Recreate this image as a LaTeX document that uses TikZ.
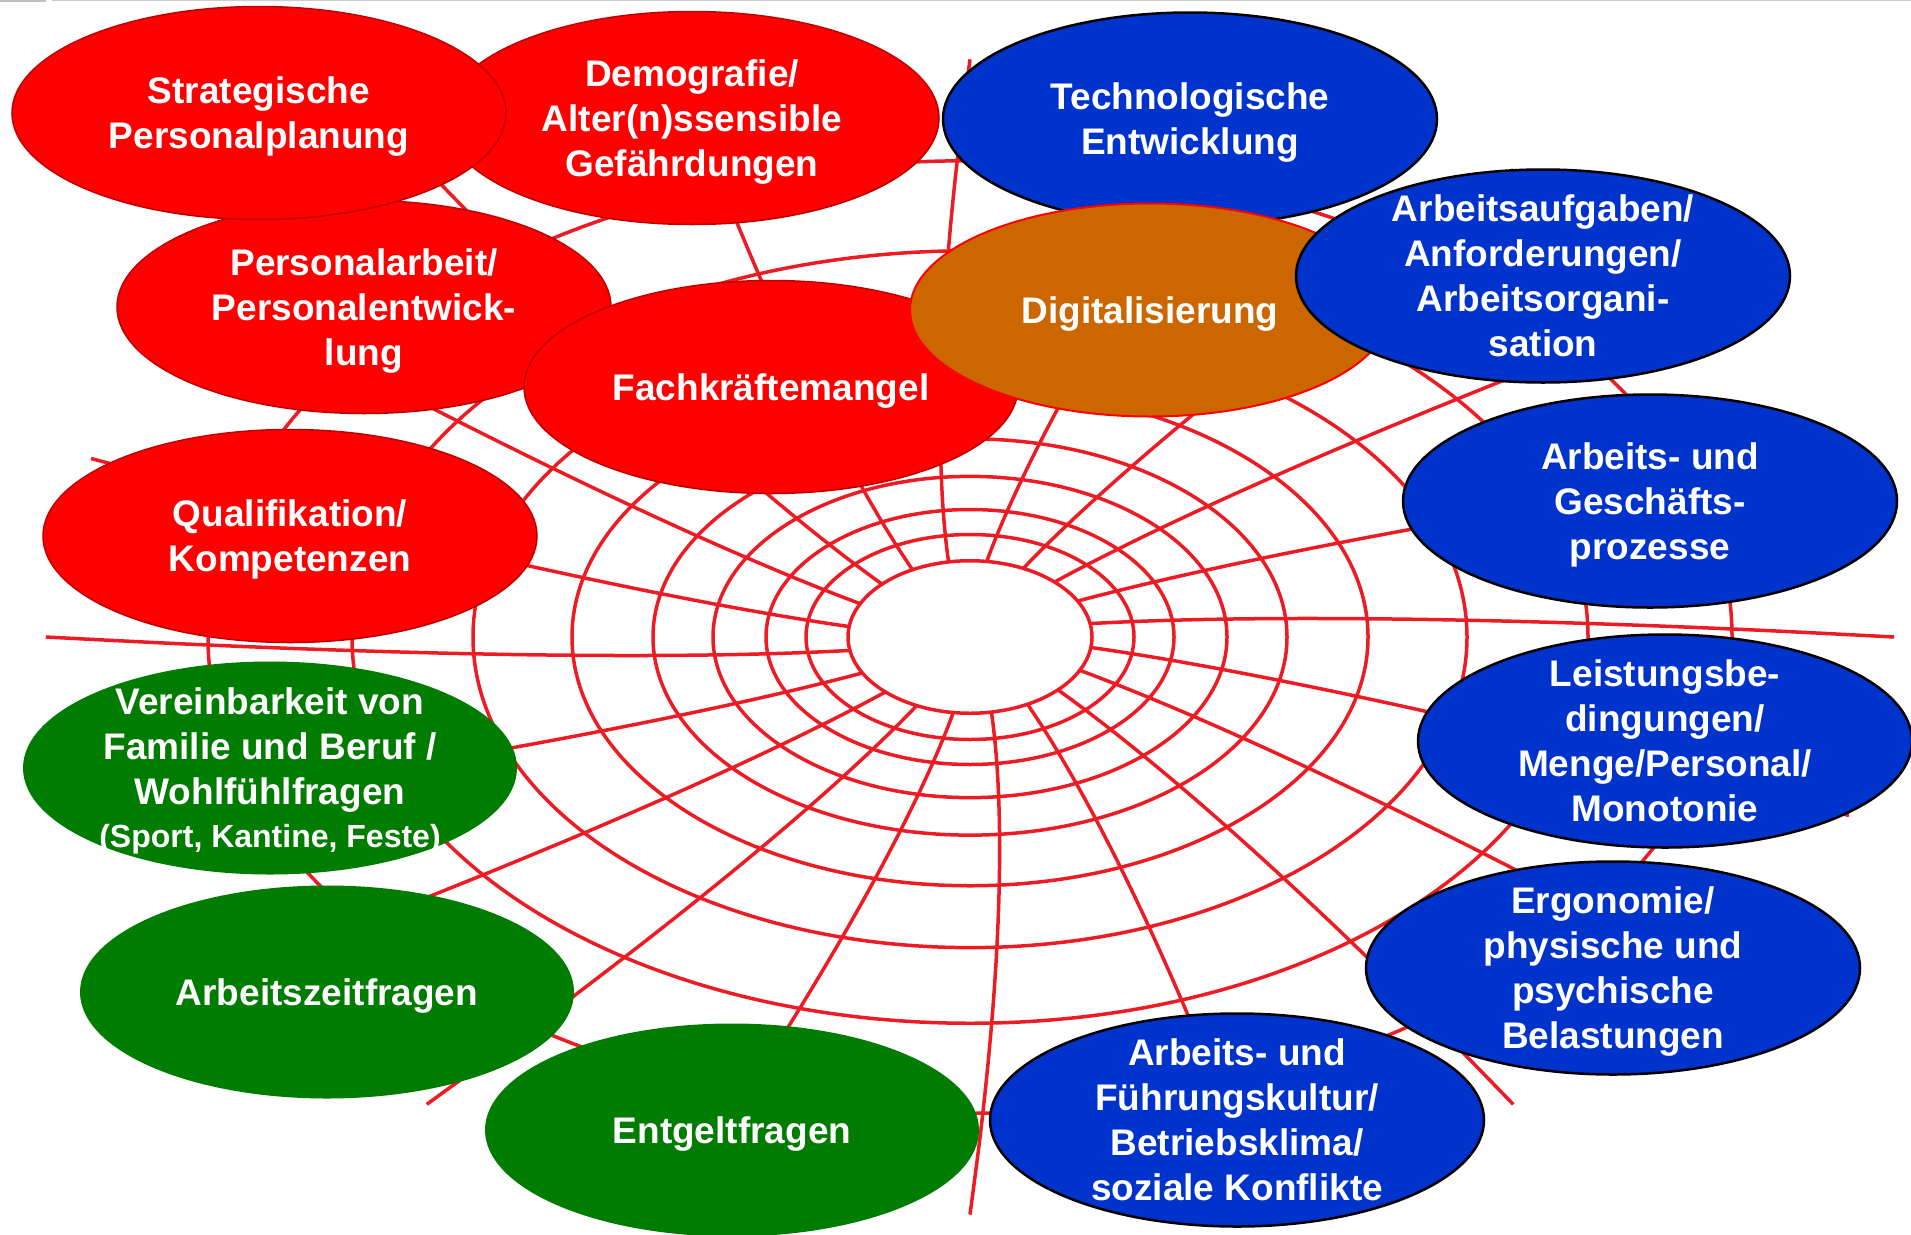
\documentclass[tikz,border=0pt]{standalone}
\usepackage{fontspec}
\setmainfont{Liberation Sans}
\usetikzlibrary{shapes.geometric}

\definecolor{webred}{RGB}{237,28,36}
\definecolor{topicred}{RGB}{255,0,0}
\definecolor{topicrim}{RGB}{192,0,0}
\definecolor{topicblue}{RGB}{0,51,204}
\definecolor{topicgreen}{RGB}{0,125,0}
\definecolor{topicorange}{RGB}{204,102,0}

\begin{document}
\begin{tikzpicture}[
  x=1pt, y=-1pt,
  webline/.style={draw=webred, line width=3.5pt},
  topic/.style={ellipse, minimum width=494pt, minimum height=213pt, inner sep=-30pt, text depth=-2pt, align=center, text=white, font=\bfseries\fontsize{37}{45}\selectfont},
  redtopic/.style={topic, fill=topicred, draw=topicrim, line width=1.5pt},
  bluetopic/.style={topic, fill=topicblue, draw=black, line width=2.5pt},
  greentopic/.style={topic, fill=topicgreen},
  digitopic/.style={topic, fill=topicorange, draw=topicred, line width=2pt, minimum width=480pt}
]
\useasboundingbox (0,0) rectangle (1911,1234);
\draw[gray!50, line width=2pt] (0,1) -- (46,1);
\draw[gray!40, line width=1pt] (52,0.5) -- (1911,0.5);

\coordinate (hub) at (970,637);
\foreach \r in {122,164,204,257,317,398,497,618,762}
  \draw[webline] (hub) ellipse [x radius=\r, y radius=0.625*\r];
\foreach \a in {0,18,...,342}
  \draw[webline, shift={(hub)}] plot[variable=\t, domain=4.804:6.829, samples=15, smooth]
    ({exp(\t)*cos(\a-5*(6.829-\t))}, {0.625*exp(\t)*sin(\a-5*(6.829-\t))});

\node[redtopic] (demo) at (692,118) {Demografie/\\Alter(n)ssensible\\Gefährdungen};
\node[redtopic] (pers) at (364,307) {Personalarbeit/\\Personalentwick-\\lung};
\node[redtopic] (strat) at (259,113) {Strategische\\Personalplanung};
\node[redtopic] (fach) at (771,387) {Fachkräftemangel};
\node[bluetopic] (tech) at (1190,119) {Technologische\\Entwicklung};
\node[digitopic] (digi) at (1150,310) {Digitalisierung};
\node[bluetopic] (aufg) at (1543,276) {Arbeitsaufgaben/\\Anforderungen/\\Arbeitsorgani-\\sation};
\node[redtopic] (quali) at (290,536) {Qualifikation/\\Kompetenzen};
\node[greentopic] (fam) at (270,768) {Vereinbarkeit von\\Familie und Beruf /\\Wohlfühlfragen\\[-2pt]{\fontsize{32}{36}\selectfont(Sport, Kantine, Feste)}};
\node[greentopic] (zeit) at (327,992) {Arbeitszeitfragen};
\node[greentopic] (entgelt) at (732,1130) {Entgeltfragen};
\node[bluetopic] (proz) at (1650,501) {Arbeits- und\\Geschäfts-\\prozesse};
\node[bluetopic] (leist) at (1665,741) {Leistungsbe-\\dingungen/\\Menge/Personal/\\Monotonie};
\node[bluetopic] (ergo) at (1613,968) {Ergonomie/\\physische und\\psychische\\Belastungen};
\node[bluetopic] (kultur) at (1237,1120) {Arbeits- und\\Führungskultur/\\Betriebsklima/\\soziale Konflikte};
\end{tikzpicture}
\end{document}
